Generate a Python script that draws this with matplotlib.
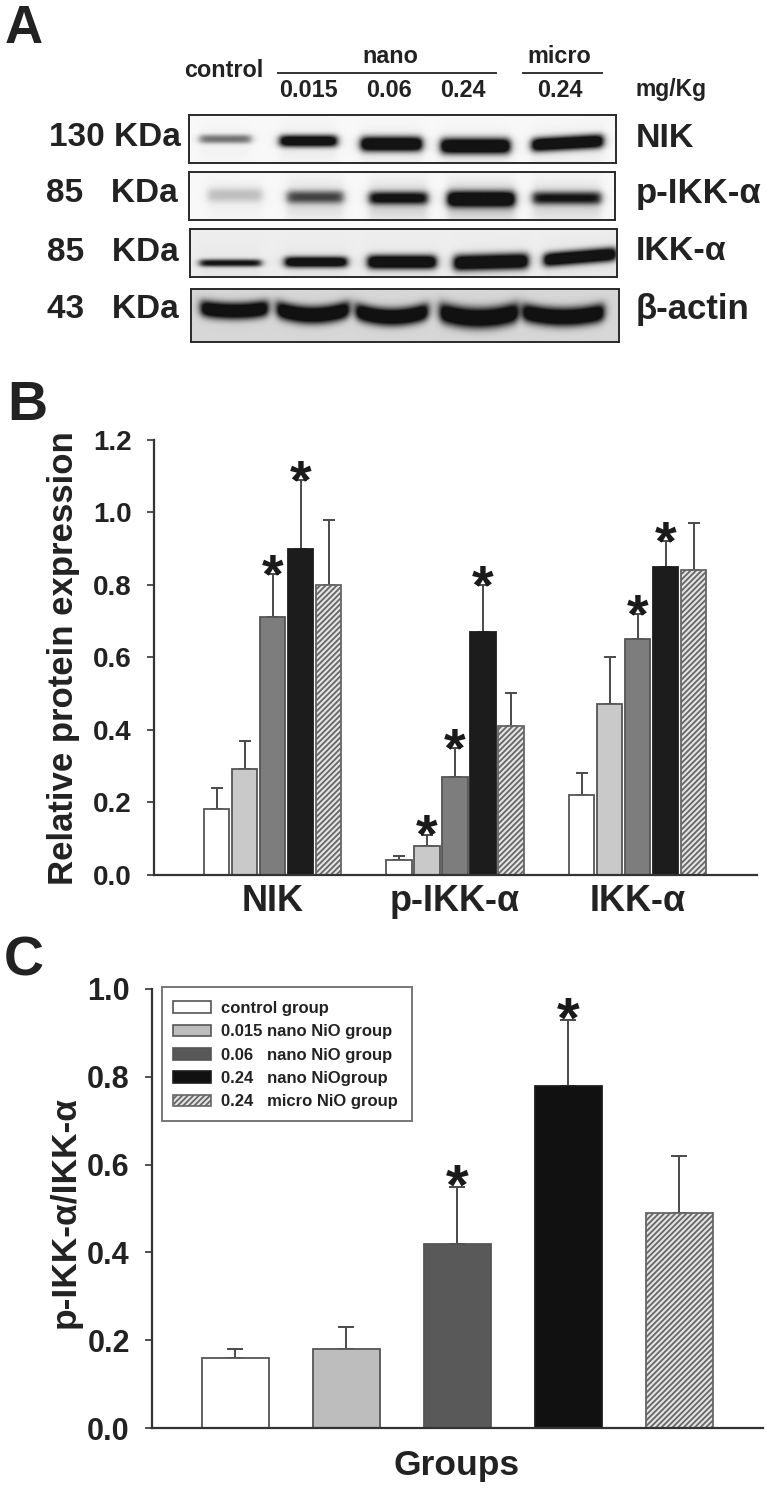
import numpy as np
import matplotlib
matplotlib.use("Agg")
import matplotlib.pyplot as plt
from matplotlib.patches import Patch, Rectangle

plt.rcParams['font.family'] = ['Liberation Sans', 'DejaVu Sans']
plt.rcParams['font.weight'] = 'bold'
plt.rcParams['hatch.linewidth'] = 1.3

W, H = 783, 1490
INK = '#222222'

# ---------- data ----------
groups_b = ['NIK', 'p-IKK-α', 'IKK-α']
nik_vals = [0.18, 0.29, 0.71, 0.90, 0.80]
nik_tops = [0.24, 0.37, 0.83, 1.09, 0.98]
pikk_vals = [0.04, 0.08, 0.27, 0.67, 0.41]
pikk_tops = [0.05, 0.11, 0.35, 0.80, 0.50]
ikk_vals = [0.22, 0.47, 0.65, 0.85, 0.84]
ikk_tops = [0.28, 0.60, 0.72, 0.92, 0.97]
nik_star = [0, 0, 1, 1, 0]
pikk_star = [0, 1, 1, 1, 0]
ikk_star = [0, 0, 1, 1, 0]

ratio_vals = [0.16, 0.18, 0.42, 0.78, 0.49]
ratio_tops = [0.18, 0.23, 0.55, 0.93, 0.62]
ratio_star = [0, 0, 1, 1, 0]

legend_labels = ['control group', '0.015 nano NiO group', '0.06   nano NiO group',
                 '0.24   nano NiOgroup', '0.24   micro NiO group']
yticks_b = [0.0, 0.2, 0.4, 0.6, 0.8, 1.0, 1.2]
yticks_c = [0.0, 0.2, 0.4, 0.6, 0.8, 1.0]

# blot band strength per lane (control, 0.015, 0.06, 0.24, micro)
nik_dark = [0.40, 0.92, 1.0, 1.0, 1.0]
pikk_dark = [0.15, 0.48, 0.70, 0.90, 0.62]
ikk_dark = [0.72, 0.92, 1.0, 1.0, 1.0]
actin_dark = [1.0, 1.0, 1.0, 1.0, 1.0]

# ---------- styles ----------
faces = ['white', '#c9c9c9', '#7d7d7d', '#1c1c1c', '#e4e4e4']
faces_c = ['white', '#bdbdbd', '#595959', '#111111', '#e4e4e4']
edges = ['#555555', '#555555', '#555555', '#1c1c1c', '#666666']
hatches = [None, None, None, None, '//////']


def px_axes(x0, y0, x1, y1):
    return fig.add_axes([x0 / W, 1 - y1 / H, (x1 - x0) / W, (y1 - y0) / H])


def ftext(x, y, s, size, ha='center', va='baseline', **kw):
    return fig.text(x / W, 1 - y / H, s, fontsize=size, ha=ha, va=va,
                    color=INK, fontweight='bold', **kw)


fig = plt.figure(figsize=(W / 100, H / 100), dpi=100, facecolor='white')

# ---------- panel A ----------
def blot(box, dark, lanes, bg, smear=0.0, curves=(0, 0, 0, 0, 0)):
    x0, y0, x1, y1 = box
    xs, ys = np.meshgrid(np.arange(x0, x1) + 0.5, np.arange(y0, y1) + 0.5)
    absorb = np.zeros_like(xs, dtype=float)
    for d, curve, (a, b, yc, th, slope) in zip(dark, curves, lanes):
        mid, half = (a + b) / 2, (b - a) / 2
        edge = 0.5 * (np.tanh((xs - a) / 4.5) - np.tanh((xs - b) / 4.5))
        u = np.clip((xs - mid) / half, -1.2, 1.2)
        yy = yc + slope * u - curve * u ** 2
        absorb += 1.4 * d * edge * np.exp(-np.abs((ys - yy) / th) ** 2.4)
        if smear:
            absorb += smear * d * edge * np.exp(-((ys - yy - 4) / 18) ** 2)
    img = bg * (1 - np.clip(absorb, 0, 1) * 0.92)
    ax = px_axes(x0, y0, x1, y1)
    ax.imshow(img, cmap='gray', vmin=0, vmax=1, aspect='auto', interpolation='bilinear')
    ax.set_xticks([]); ax.set_yticks([])
    for s in ax.spines.values():
        s.set_linewidth(1.4); s.set_color('#2a2a2a')


blot((189, 115, 616, 163), nik_dark,
     [(200, 251, 139, 4.5, 0), (280, 337, 141, 6, 0), (361, 422, 144, 7.5, 0),
      (441, 510, 146, 8, 0), (532, 603, 143, 7, -2)], 0.97, smear=0.06)
blot((189, 172, 615, 220), pikk_dark,
     [(208, 262, 195, 7, 0), (287, 343, 197, 6.5, 0), (369, 427, 198, 6.5, 0),
      (447, 514, 199, 8, 0), (532, 600, 198, 6.5, 0)], 0.97, smear=0.28)
blot((190, 229, 617, 277), ikk_dark,
     [(200, 261, 263, 3.8, 0), (285, 347, 262, 5.5, 0), (368, 436, 262, 7, 0),
      (454, 528, 262, 8, -1), (544, 616, 257, 7, -3)], 0.93, smear=0.05)
blot((191, 289, 619, 342), actin_dark,
     [(201, 268, 311, 8.5, 0), (277, 349, 315, 9, 0), (356, 428, 317, 9, 0),
      (440, 518, 318, 10.5, 0), (523, 604, 317, 9.5, 0)], 0.84, curves=(3, 6, 6, 6, 5))

ftext(5, 43, 'A', 38, ha='left')
ftext(224, 77, 'control', 16.8)
ftext(390, 63, 'nano', 16.8)
ftext(559, 63, 'micro', 16.8)
for xc, s in zip([308, 389, 463, 560], ['0.015', '0.06', '0.24', '0.24']):
    ftext(xc, 97, s, 16.8)
ftext(671, 96, 'mg/Kg', 16.5)
for a, b in [(278, 496), (523, 602)]:
    fig.add_artist(plt.Line2D([a / W, b / W], [1 - 73 / H] * 2, color='#333333', lw=1.4))
for xl, y, s in [(49, 146, '130 KDa'), (46, 202, '85   KDa'), (47, 261, '85   KDa'), (47, 318, '43   KDa')]:
    ftext(xl, y, s, 24, ha='left')
for y, s, size in [(147, 'NIK', 24.5), (203, 'p-IKK-α', 25), (260, 'IKK-α', 24.5), (319, 'β-actin', 25)]:
    ftext(636, y, s, size, ha='left')

# ---------- panel B ----------
ftext(7, 420, 'B', 40, ha='left')
axb = px_axes(154, 440, 757, 874.5)
group_px = 182.5
axb.set_xlim(-(272.5 - 154) / group_px, (757 - 272.5) / group_px)
axb.set_ylim(0, 1.2)
step = 28 / group_px
bw = 25.5 / group_px


def draw_bars(ax, xs, vals, tops, stars, width, face_list, elw, capw, star_size, star_off):
    for i, (x, v, t, st) in enumerate(zip(xs, vals, tops, stars)):
        ax.bar(x, v, width, color=face_list[i], edgecolor=edges[i], linewidth=1.3,
               hatch=hatches[i], zorder=2)
        ax.errorbar(x, v, yerr=[[0], [t - v]], color='#4a4a4a', elinewidth=elw,
                    capsize=capw, capthick=elw, zorder=1)
        if st:
            ax.annotate('*', (x, t), xytext=(0, star_off), textcoords='offset points',
                        ha='center', va='baseline', fontsize=star_size,
                        color='#1a1a1a', fontweight='bold', zorder=3)


for g, (vals, tops, stars) in enumerate([(nik_vals, nik_tops, nik_star),
                                         (pikk_vals, pikk_tops, pikk_star),
                                         (ikk_vals, ikk_tops, ikk_star)]):
    draw_bars(axb, [g + (i - 2) * step for i in range(5)], vals, tops, stars,
              bw, faces, 1.4, 4.5, 40, -13)

axb.set_xticks(range(3))
axb.set_xticklabels(groups_b, fontsize=26, fontweight='bold', color=INK)
axb.tick_params(axis='x', length=0, pad=7)
axb.set_yticks(yticks_b)
axb.set_yticklabels([f'{v:.1f}' for v in yticks_b], fontsize=20, fontweight='bold', color=INK)
axb.tick_params(axis='y', length=5, width=1.2, color='#333333', pad=11)
for s in ['top', 'right']:
    axb.spines[s].set_visible(False)
for s in ['left', 'bottom']:
    axb.spines[s].set_linewidth(1.6); axb.spines[s].set_color('#333333')
ftext(64, 658, 'Relative protein expression', 25, rotation=90, va='center')

# ---------- panel C ----------
ftext(4, 975, 'C', 40, ha='left')
CX0, CY0, CX1, CY1 = 152, 989, 763, 1428
axc = px_axes(CX0, CY0, CX1, CY1)
slot = 111
axc.set_xlim(-(235 - CX0) / slot, (CX1 - 235) / slot)
axc.set_ylim(0, 1.0)
draw_bars(axc, range(5), ratio_vals, ratio_tops, ratio_star, 67 / slot, faces_c, 1.4, 6, 42, -13)
axc.set_xticks([])
axc.set_yticks(yticks_c)
axc.set_yticklabels([f'{v:.1f}' for v in yticks_c], fontsize=22, fontweight='bold', color=INK)
axc.tick_params(axis='y', length=5, width=1.2, color='#333333', pad=11)
for s in ['top', 'right']:
    axc.spines[s].set_visible(False)
for s in ['left', 'bottom']:
    axc.spines[s].set_linewidth(1.6); axc.spines[s].set_color('#333333')
ftext(65, 1212, 'p-IKK-α/IKK-α', 25.5, rotation=90, va='center')
ftext(457, 1475, 'Groups', 25.5)

# legend frame and legend, placed separately so frame padding can differ per side
cw, ch = CX1 - CX0, CY1 - CY0
axc.add_patch(Rectangle(((162 - CX0) / cw, 1 - (1121 - CY0) / ch), 250 / cw, 134 / ch,
                        transform=axc.transAxes, facecolor='white', edgecolor='#777777',
                        linewidth=1.4, zorder=4.5, clip_on=False))
handles = [Patch(facecolor=faces_c[i], edgecolor=edges[i], hatch=hatches[i], linewidth=1.2)
           for i in range(5)]
leg = axc.legend(handles, legend_labels, loc='upper left',
                 bbox_to_anchor=((173 - CX0) / cw, 1 - (1001 - CY0) / ch),
                 fontsize=12, handlelength=2.3, handleheight=0.72, handletextpad=0.6,
                 labelspacing=0.5, borderpad=0, borderaxespad=0, frameon=False)
for t in leg.get_texts():
    t.set_color(INK)

fig.savefig('out.png', dpi=100, facecolor='white')
